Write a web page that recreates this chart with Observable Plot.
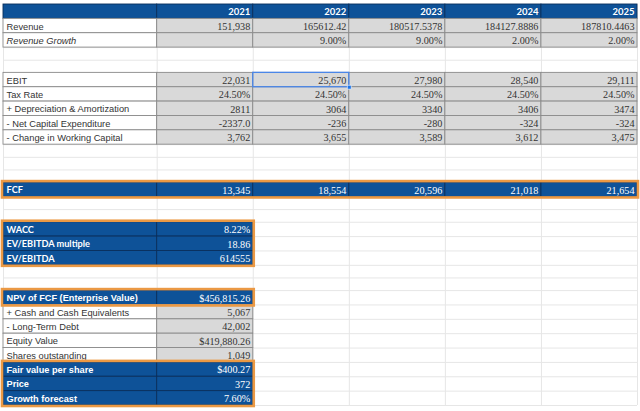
<!DOCTYPE html>
<html><head><meta charset="utf-8">
<script src="https://cdn.jsdelivr.net/npm/d3@7"></script>
<script src="https://cdn.jsdelivr.net/npm/@observablehq/plot@0.6"></script>
<style>body{margin:0;background:#fff}</style>
</head><body><div id="chart"></div>
<script>
// ---- data ----
const years = ["2021", "2022", "2023", "2024", "2025"];
const revenue = [151938, 165612.42, 180517.5378, 184127.8886, 187810.4463];
const revenueGrowth = [null, 0.09, 0.09, 0.02, 0.02];
const ebit = [22031, 25670, 27980, 28540, 29111];
const taxRate = [0.245, 0.245, 0.245, 0.245, 0.245];
const depreciation = [2811, 3064, 3340, 3406, 3474];
const netCapex = [-2337.0, -236, -280, -324, -324];
const workingCapital = [3762, 3655, 3589, 3612, 3475];
const fcf = [13345, 18554, 20596, 21018, 21654];
const waccLabels = ["WACC", "EV/EBITDA multiple", "EV/EBITDA"];
const waccValues = [0.0822, 18.86, 614555];
const valuationLabels = ["NPV of FCF (Enterprise Value)", "+ Cash and Cash Equivalents", "- Long-Term Debt",
  "Equity Value", "Shares outstanding", "Fair value per share", "Price", "Growth forecast"];
const valuationValues = [456815.26, 5067, 42002, 419880.26, 1049, 400.27, 372, 0.076];
const selectedCell = {row: "EBIT", year: "2022"};

// ---- table structure ----
const comma = d3.format(",");
const pct = d3.format(".2%");
const plainStr = v => String(v);
const waccFormats = [pct, d3.format(".2f"), d3.format("d")];
const valuationFormats = [d3.format("$,.2f"), comma, comma, d3.format("$,.2f"), comma, d3.format("$,.2f"), d3.format("d"), pct];
const valuationKinds = ["blueArial", "plain", "plain", "plain", "plain", "blueArial", "blueArial", "blueArial"];

const spacer = k => ({key: "spacer" + k, kind: "spacer", values: []});
const rows = [
  {key: "header", label: "", values: years, fmt: v => v, kind: "header"},
  {key: "Revenue", label: "Revenue", values: revenue, fmt: (v, i) => i === 0 ? comma(v) : plainStr(v), kind: "plain"},
  {key: "Revenue Growth", label: "Revenue Growth", values: revenueGrowth, fmt: v => v == null ? "" : pct(v), kind: "italic"},
  spacer(1), spacer(2),
  {key: "EBIT", label: "EBIT", values: ebit, fmt: v => comma(v), kind: "plain"},
  {key: "Tax Rate", label: "Tax Rate", values: taxRate, fmt: v => pct(v), kind: "plain"},
  {key: "DA", label: "+ Depreciation & Amortization", values: depreciation, fmt: plainStr, kind: "plain"},
  {key: "Capex", label: "- Net Capital Expenditure", values: netCapex, fmt: (v, i) => i === 0 ? v.toFixed(1) : plainStr(v), kind: "plain"},
  {key: "WC", label: "- Change in Working Capital", values: workingCapital, fmt: v => comma(v), kind: "plain"},
  spacer(3), spacer(4), spacer(5),
  {key: "FCF", label: "FCF", values: fcf, fmt: v => comma(v), kind: "blueCal"},
  spacer(6), spacer(7),
  ...waccLabels.map((l, i) => ({key: l, label: l, values: [waccValues[i]], fmt: v => waccFormats[i](v), kind: "blueCal"})),
  spacer(8), spacer(9),
  ...valuationLabels.map((l, i) => ({key: l, label: l, values: [valuationValues[i]], fmt: v => valuationFormats[i](v), kind: valuationKinds[i]}))
];

// empty spreadsheet rows are drawn a little shorter than filled ones
const spacerWeight = 0.88;
let acc = 0;
rows.forEach(r => { r.top = acc; acc += r.kind === "spacer" ? spacerWeight : 1; r.bottom = acc; });
const totalRows = acc;
const rowByKey = new Map(rows.map(r => [r.key, r]));

const labelSpan = 1.6;             // label column width, in year-column units
const totalCols = labelSpan + years.length;
const BLUE = "#0e5298", GRAY = "#d9d9d9", ORANGE = "#eb9944";
const isBlue = k => k === "header" || k === "blueCal" || k === "blueArial";

const cells = [];
rows.forEach(r => {
  if (r.kind === "spacer") return;
  cells.push({top: r.top, bottom: r.bottom, x1: 0, x2: labelSpan, text: r.label, part: "label", kind: r.kind});
  r.values.forEach((v, i) => cells.push({top: r.top, bottom: r.bottom, x1: labelSpan + i, x2: labelSpan + i + 1, text: r.fmt(v, i), part: "value", kind: r.kind}));
});
cells.forEach(c => {
  c.fill = isBlue(c.kind) ? BLUE : (c.part === "label" ? "#ffffff" : GRAY);
  c.stroke = isBlue(c.kind) ? "#0a2f5c" : "#8a8a8a";
});

// orange outlined groups
const boxes = [
  {first: "FCF", last: "FCF", cols: years.length},
  {first: waccLabels[0], last: waccLabels[2], cols: 1},
  {first: valuationLabels[0], last: valuationLabels[0], cols: 1},
  {first: valuationLabels[5], last: valuationLabels[7], cols: 1}
].map(b => ({top: rowByKey.get(b.first).top, bottom: rowByKey.get(b.last).bottom, cols: b.cols}));
const selRow = rowByKey.get(selectedCell.row);
const sel = {top: selRow.top, bottom: selRow.bottom, col: years.indexOf(selectedCell.year)};

const ARIAL = "Liberation Sans, Arial, sans-serif";
const CALIBRI = "Lato, Carlito, Calibri, sans-serif";
const SERIF = "Liberation Serif, Cambria, serif";

const textMark = (filter, opts) => Plot.text(cells.filter(filter), {
  x: d => d.part === "label" ? d.x1 : d.x2,
  y: d => (d.top + d.bottom) / 2,
  text: "text",
  textAnchor: opts.anchor,
  dx: opts.anchor === "start" ? 3 : -3,
  dy: 0.5,
  fill: opts.fill,
  fontFamily: opts.font,
  fontSize: opts.size,
  fontWeight: opts.weight || "normal",
  fontStyle: opts.style || "normal"
});

const gridY = [...new Set(rows.flatMap(r => [r.top, r.bottom]))];

const chart = Plot.plot({
  width: 640,
  height: 411,
  marginTop: 4,
  marginBottom: 6,
  marginLeft: 3,
  marginRight: 3,
  x: {domain: [0, totalCols], axis: null},
  y: {domain: [0, totalRows], reverse: true, axis: null},
  color: {type: "identity"},
  style: {background: "#ffffff"},
  marks: [
    // faint spreadsheet gridlines
    Plot.ruleY(gridY, {y: d => d, x1: () => 0, x2: () => totalCols, stroke: "#e6e6e6"}),
    Plot.ruleX([0, labelSpan, ...years.map((_, i) => labelSpan + i + 1)], {x: d => d, y1: () => 0, y2: () => totalRows, stroke: "#e6e6e6"}),
    // cells
    Plot.rect(cells, {x1: "x1", x2: "x2", y1: "top", y2: "bottom", fill: "fill", stroke: "stroke", strokeWidth: 0.9}),
    // texts
    textMark(d => d.part === "label" && d.kind === "plain", {anchor: "start", fill: "#333", font: ARIAL, size: 9.3}),
    textMark(d => d.part === "label" && d.kind === "italic", {anchor: "start", fill: "#333", font: ARIAL, size: 9.3, style: "italic"}),
    textMark(d => d.part === "label" && d.kind === "blueCal", {anchor: "start", fill: "#fff", font: CALIBRI, size: 9.2, weight: "bold"}),
    textMark(d => d.part === "label" && d.kind === "blueArial", {anchor: "start", fill: "#fff", font: ARIAL, size: 9.2, weight: "bold"}),
    textMark(d => d.part === "value" && d.kind === "header", {anchor: "end", fill: "#fff", font: CALIBRI, size: 9.5, weight: "bold"}),
    textMark(d => d.part === "value" && (d.kind === "plain" || d.kind === "italic"), {anchor: "end", fill: "#333", font: SERIF, size: 10.2}),
    textMark(d => d.part === "value" && (d.kind === "blueCal" || d.kind === "blueArial"), {anchor: "end", fill: "#fff", font: SERIF, size: 10.2}),
    // selected cell
    Plot.rect([sel], {x1: d => labelSpan + d.col, x2: d => labelSpan + d.col + 1, y1: "top", y2: "bottom", fill: "none", stroke: "#4a86e8", strokeWidth: 1.3}),
    Plot.dot([sel], {x: d => labelSpan + d.col + 1, y: "bottom", symbol: "square", r: 2.2, fill: "#1a73e8", stroke: "#fff", strokeWidth: 0.6}),
    // orange outlines
    Plot.rect(boxes, {x1: () => 0, x2: d => labelSpan + d.cols, y1: "top", y2: "bottom", fill: "none", stroke: ORANGE, strokeWidth: 2.6, inset: -1})
  ]
});
document.getElementById("chart").append(chart);
</script>
</body></html>
